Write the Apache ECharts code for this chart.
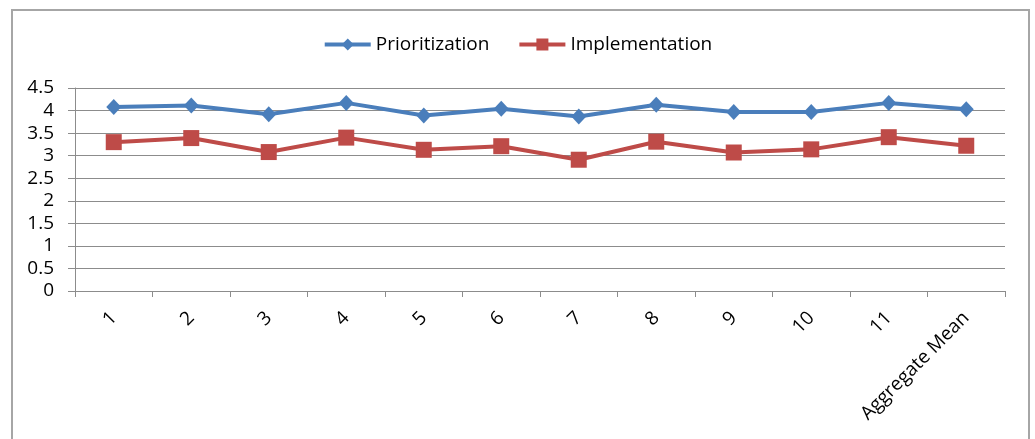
<!DOCTYPE html>
<html>
<head>
<meta charset="utf-8">
<script src="https://cdn.jsdelivr.net/npm/echarts@6/dist/echarts.min.js"></script>
<style>
  body { margin: 0; background: #fff; }
  #app { width: 1035px; height: 439px; }
</style>
</head>
<body>
<div id="app"></div>
<script>
const categories = ['1', '2', '3', '4', '5', '6', '7', '8', '9', '10', '11', 'Aggregate Mean'];
const prioritization = [4.08, 4.11, 3.92, 4.17, 3.89, 4.04, 3.87, 4.13, 3.97, 3.97, 4.17, 4.03];
const implementation = [3.30, 3.39, 3.08, 3.40, 3.13, 3.21, 2.91, 3.31, 3.07, 3.14, 3.41, 3.22];

const font = '"Open Sans", sans-serif';
const gray = '#8c8c8c';
const blue = '#4A7EBB';
const red = '#BE4B48';

const chart = echarts.init(document.getElementById('app'));
chart.setOption({
  animation: false,
  textStyle: { fontFamily: font },
  graphic: [{
    type: 'rect',
    shape: { x: 12, y: 10, width: 1017, height: 460 },
    style: { fill: 'none', stroke: '#a6a6a6', lineWidth: 2 }
  }],
  legend: {
    top: 30,
    left: 'center',
    itemWidth: 46,
    itemHeight: 15,
    itemGap: 28,
    textStyle: { fontFamily: font, fontSize: 19, color: '#000' },
    data: [
      { name: 'Prioritization', lineStyle: { width: 4, color: blue } },
      { name: 'Implementation', lineStyle: { width: 4, color: red } }
    ]
  },
  grid: { left: 75, right: 30, top: 88, bottom: 148 },
  xAxis: {
    type: 'category',
    data: categories,
    boundaryGap: true,
    axisLine: { lineStyle: { color: gray, width: 1 } },
    axisTick: { show: true, length: 6, interval: 0, lineStyle: { color: gray } },
    axisLabel: { interval: 0, rotate: 45, margin: 24, fontFamily: font, fontSize: 19, color: '#000' },
    splitLine: { show: false }
  },
  yAxis: {
    type: 'value',
    min: 0,
    max: 4.5,
    interval: 0.5,
    axisLine: { show: true, lineStyle: { color: gray, width: 1 } },
    axisTick: { show: true, length: 7, lineStyle: { color: gray } },
    axisLabel: { margin: 21, fontFamily: font, fontSize: 19, color: '#000' },
    splitLine: { show: true, lineStyle: { color: gray, width: 1 } }
  },
  series: [
    {
      name: 'Prioritization',
      type: 'line',
      data: prioritization,
      symbol: 'diamond',
      symbolSize: [15, 16],
      lineStyle: { color: blue, width: 4 },
      itemStyle: { color: blue }
    },
    {
      name: 'Implementation',
      type: 'line',
      data: implementation,
      symbol: 'rect',
      symbolSize: 16,
      lineStyle: { color: red, width: 4 },
      itemStyle: { color: red }
    }
  ]
});
</script>
</body>
</html>
